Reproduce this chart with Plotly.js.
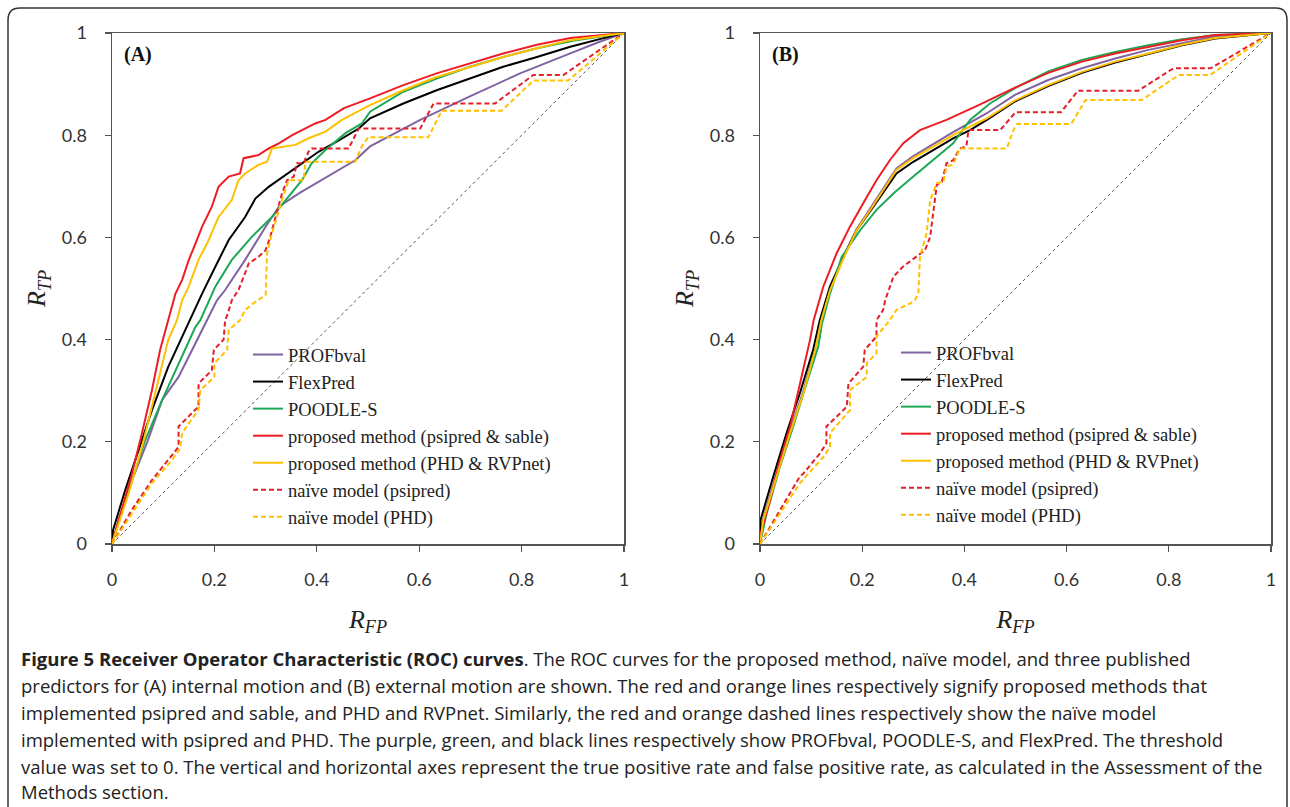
<!DOCTYPE html>
<html>
<head>
<meta charset="utf-8">
<script src="https://cdn.plot.ly/plotly-3.0.1.min.js"></script>
<style>html,body{margin:0;padding:0;background:#fff;}#chart{width:1290px;height:807px;}</style>
</head>
<body>
<div id="chart"></div>
<script>
// ---------- Data ----------
const seriesNames = ["PROFbval", "FlexPred", "POODLE-S",
  "proposed method (psipred & sable)", "proposed method (PHD & RVPnet)",
  "naïve model (psipred)", "naïve model (PHD)"];
const tickVals = [0, 0.2, 0.4, 0.6, 0.8, 1];
const tickLabels = ["0", "0.2", "0.4", "0.6", "0.8", "1"];
const panelLabels = ["(A)", "(B)"];
const diagX = [0, 1];
const diagY = [0, 1];

// Panel A: internal motion
const A_prof_x = [0, 0.013, 0.039, 0.069, 0.098, 0.13, 0.163, 0.186, 0.205, 0.221, 0.26, 0.3, 0.326, 0.365, 0.404, 0.443, 0.475, 0.504, 0.602, 0.699, 0.797, 0.895, 0.95, 1];
const A_prof_y = [0, 0.047, 0.125, 0.2, 0.282, 0.327, 0.393, 0.438, 0.477, 0.497, 0.556, 0.621, 0.66, 0.686, 0.709, 0.732, 0.751, 0.778, 0.83, 0.876, 0.921, 0.96, 0.982, 1];
const A_flex_x = [0, 0.002, 0.026, 0.052, 0.078, 0.11, 0.143, 0.153, 0.176, 0.202, 0.228, 0.26, 0.28, 0.306, 0.339, 0.371, 0.404, 0.443, 0.482, 0.504, 0.569, 0.634, 0.699, 0.764, 0.83, 0.895, 0.96, 1];
const A_flex_y = [0, 0.027, 0.106, 0.184, 0.262, 0.347, 0.419, 0.438, 0.49, 0.543, 0.595, 0.64, 0.676, 0.699, 0.722, 0.745, 0.768, 0.79, 0.813, 0.833, 0.862, 0.888, 0.911, 0.934, 0.953, 0.973, 0.99, 1];
const A_poodle_x = [0, 0.013, 0.039, 0.065, 0.098, 0.13, 0.163, 0.1725, 0.189, 0.202, 0.234, 0.273, 0.3125, 0.345, 0.371, 0.39, 0.417, 0.456, 0.488, 0.504, 0.569, 0.634, 0.699, 0.764, 0.83, 0.9, 1];
const A_poodle_y = [0, 0.047, 0.125, 0.2035, 0.282, 0.354, 0.425, 0.438, 0.477, 0.504, 0.556, 0.601, 0.64, 0.68, 0.712, 0.745, 0.771, 0.804, 0.823, 0.846, 0.885, 0.911, 0.934, 0.953, 0.97, 0.985, 1];
const A_red_x = [0, 0.0195, 0.039, 0.0586, 0.078, 0.094, 0.107, 0.111, 0.12, 0.124, 0.137, 0.15, 0.163, 0.176, 0.195, 0.208, 0.228, 0.25, 0.257, 0.286, 0.306, 0.326, 0.352, 0.378, 0.397, 0.417, 0.453, 0.504, 0.569, 0.634, 0.699, 0.764, 0.83, 0.895, 1];
const A_red_y = [0, 0.067, 0.138, 0.217, 0.301, 0.38, 0.43, 0.44, 0.477, 0.49, 0.517, 0.556, 0.588, 0.621, 0.66, 0.699, 0.719, 0.725, 0.755, 0.761, 0.774, 0.784, 0.8, 0.813, 0.823, 0.83, 0.853, 0.872, 0.898, 0.921, 0.94, 0.96, 0.977, 0.99, 1];
const A_orange_x = [0, 0.0065, 0.0326, 0.0586, 0.085, 0.11, 0.127, 0.137, 0.15, 0.169, 0.189, 0.208, 0.234, 0.247, 0.26, 0.286, 0.303, 0.3125, 0.358, 0.384, 0.417, 0.449, 0.504, 0.569, 0.634, 0.699, 0.764, 0.83, 0.895, 1];
const A_orange_y = [0, 0.02, 0.099, 0.19, 0.295, 0.4, 0.438, 0.477, 0.504, 0.556, 0.595, 0.64, 0.673, 0.712, 0.725, 0.742, 0.748, 0.774, 0.781, 0.794, 0.807, 0.83, 0.859, 0.888, 0.914, 0.934, 0.953, 0.97, 0.986, 1];
const A_naivePsi_x = [0, 0.039, 0.078, 0.12, 0.13, 0.13, 0.15, 0.169, 0.169, 0.195, 0.199, 0.218, 0.221, 0.226, 0.234, 0.247, 0.26, 0.267, 0.286, 0.3, 0.309, 0.319, 0.326, 0.332, 0.342, 0.355, 0.361, 0.374, 0.384, 0.39, 0.462, 0.482, 0.504, 0.602, 0.628, 0.748, 0.823, 0.882, 1];
const A_naivePsi_y = [0, 0.067, 0.125, 0.177, 0.19, 0.23, 0.249, 0.269, 0.314, 0.34, 0.38, 0.4, 0.438, 0.45, 0.477, 0.497, 0.53, 0.549, 0.562, 0.575, 0.601, 0.64, 0.667, 0.686, 0.712, 0.719, 0.745, 0.745, 0.768, 0.774, 0.774, 0.813, 0.813, 0.813, 0.862, 0.862, 0.918, 0.918, 1];
const A_naivePhd_x = [0, 0.039, 0.078, 0.117, 0.133, 0.137, 0.169, 0.1725, 0.2, 0.2, 0.225, 0.228, 0.25, 0.26, 0.28, 0.3, 0.303, 0.3125, 0.322, 0.332, 0.345, 0.374, 0.378, 0.475, 0.488, 0.501, 0.504, 0.618, 0.644, 0.761, 0.823, 0.891, 1];
const A_naivePhd_y = [0, 0.06, 0.119, 0.164, 0.187, 0.217, 0.263, 0.301, 0.327, 0.354, 0.38, 0.419, 0.438, 0.458, 0.474, 0.487, 0.569, 0.608, 0.64, 0.673, 0.712, 0.712, 0.748, 0.748, 0.778, 0.797, 0.796, 0.796, 0.848, 0.848, 0.907, 0.907, 1];

// Panel B: external motion
const B_prof_x = [0, 0.005, 0.03, 0.056, 0.083, 0.107, 0.12, 0.137, 0.163, 0.189, 0.222, 0.248, 0.267, 0.3, 0.339, 0.378, 0.417, 0.444, 0.499, 0.564, 0.63, 0.695, 0.76, 0.826, 0.891, 1];
const B_prof_y = [0, 0.045, 0.13, 0.215, 0.293, 0.378, 0.438, 0.498, 0.56, 0.616, 0.666, 0.707, 0.735, 0.759, 0.783, 0.806, 0.828, 0.843, 0.879, 0.908, 0.931, 0.95, 0.967, 0.98, 0.993, 1];
const B_flex_x = [0, 0.001, 0.026, 0.052, 0.078, 0.104, 0.117, 0.137, 0.163, 0.189, 0.222, 0.248, 0.267, 0.3, 0.339, 0.378, 0.411, 0.444, 0.499, 0.564, 0.63, 0.695, 0.76, 0.826, 0.891, 1];
const B_flex_y = [0, 0.047, 0.132, 0.217, 0.295, 0.38, 0.438, 0.504, 0.562, 0.614, 0.66, 0.699, 0.725, 0.748, 0.771, 0.794, 0.81, 0.83, 0.866, 0.896, 0.922, 0.942, 0.959, 0.976, 0.989, 1];
const B_poodle_x = [0, 0.013, 0.039, 0.065, 0.091, 0.114, 0.121, 0.137, 0.16, 0.196, 0.228, 0.261, 0.3, 0.339, 0.378, 0.411, 0.45, 0.499, 0.564, 0.63, 0.695, 0.76, 0.826, 0.891, 1];
const B_poodle_y = [0, 0.06, 0.151, 0.23, 0.314, 0.386, 0.43, 0.49, 0.562, 0.614, 0.654, 0.686, 0.719, 0.751, 0.784, 0.83, 0.862, 0.892, 0.925, 0.947, 0.963, 0.976, 0.988, 0.996, 1];
const B_red_x = [0, 0.001, 0.02, 0.039, 0.059, 0.078, 0.098, 0.105, 0.114, 0.124, 0.15, 0.176, 0.202, 0.228, 0.254, 0.28, 0.313, 0.346, 0.365, 0.43, 0.499, 0.564, 0.63, 0.695, 0.76, 0.826, 0.891, 1];
const B_red_y = [0, 0.02, 0.086, 0.164, 0.23, 0.314, 0.4, 0.438, 0.47, 0.504, 0.569, 0.621, 0.667, 0.712, 0.751, 0.784, 0.81, 0.823, 0.83, 0.86, 0.893, 0.922, 0.944, 0.96, 0.973, 0.986, 0.996, 1];
const B_orange_x = [0, 0.0065, 0.0326, 0.0587, 0.085, 0.108, 0.12, 0.137, 0.163, 0.189, 0.222, 0.248, 0.267, 0.3, 0.339, 0.378, 0.417, 0.444, 0.499, 0.564, 0.63, 0.695, 0.76, 0.826, 0.891, 1];
const B_orange_y = [0, 0.047, 0.132, 0.217, 0.295, 0.38, 0.438, 0.497, 0.558, 0.614, 0.663, 0.704, 0.732, 0.755, 0.778, 0.8, 0.82, 0.833, 0.868, 0.898, 0.924, 0.944, 0.96, 0.977, 0.99, 1];
const B_naivePsi_x = [0, 0.039, 0.078, 0.085, 0.117, 0.13, 0.13, 0.157, 0.17, 0.173, 0.202, 0.205, 0.228, 0.228, 0.241, 0.245, 0.261, 0.28, 0.307, 0.323, 0.333, 0.339, 0.346, 0.356, 0.365, 0.378, 0.391, 0.404, 0.408, 0.47, 0.5, 0.589, 0.622, 0.74, 0.809, 0.882, 1];
const B_naivePsi_y = [0, 0.067, 0.132, 0.138, 0.177, 0.197, 0.23, 0.256, 0.269, 0.314, 0.347, 0.38, 0.406, 0.438, 0.458, 0.477, 0.523, 0.543, 0.562, 0.575, 0.601, 0.654, 0.703, 0.709, 0.745, 0.751, 0.774, 0.778, 0.81, 0.81, 0.845, 0.845, 0.887, 0.887, 0.931, 0.931, 1];
const B_naivePhd_x = [0, 0.039, 0.078, 0.124, 0.137, 0.137, 0.176, 0.176, 0.209, 0.209, 0.228, 0.228, 0.254, 0.267, 0.294, 0.303, 0.31, 0.313, 0.326, 0.333, 0.346, 0.359, 0.365, 0.378, 0.391, 0.483, 0.496, 0.503, 0.609, 0.637, 0.747, 0.82, 0.881, 1];
const B_naivePhd_y = [0, 0.06, 0.119, 0.17, 0.19, 0.217, 0.262, 0.301, 0.327, 0.354, 0.373, 0.406, 0.438, 0.458, 0.471, 0.477, 0.49, 0.562, 0.608, 0.673, 0.706, 0.709, 0.739, 0.742, 0.774, 0.774, 0.81, 0.822, 0.822, 0.869, 0.869, 0.918, 0.918, 1];

const captionLines = [
  "<b>Figure 5 Receiver Operator Characteristic (ROC) curves</b>. The ROC curves for the proposed method, naïve model, and three published",
  "predictors for (A) internal motion and (B) external motion are shown. The red and orange lines respectively signify proposed methods that",
  "implemented psipred and sable, and PHD and RVPnet. Similarly, the red and orange dashed lines respectively show the naïve model",
  "implemented with psipred and PHD. The purple, green, and black lines respectively show PROFbval, POODLE-S, and FlexPred. The threshold",
  "value was set to 0. The vertical and horizontal axes represent the true positive rate and false positive rate, as calculated in the Assessment of the",
  "Methods section."
];

// ---------- Styles ----------
const styles = [
  {color: "#8064A2", dash: "solid"},
  {color: "#000000", dash: "solid"},
  {color: "#1DA855", dash: "solid"},
  {color: "#EE1C24", dash: "solid"},
  {color: "#FFC000", dash: "solid"},
  {color: "#E3202A", dash: "5px,3px"},
  {color: "#FFC000", dash: "5px,3px"}
];

const panelA = [[A_prof_x, A_prof_y], [A_flex_x, A_flex_y], [A_poodle_x, A_poodle_y], [A_red_x, A_red_y], [A_orange_x, A_orange_y], [A_naivePsi_x, A_naivePsi_y], [A_naivePhd_x, A_naivePhd_y]];
const panelB = [[B_prof_x, B_prof_y], [B_flex_x, B_flex_y], [B_poodle_x, B_poodle_y], [B_red_x, B_red_y], [B_orange_x, B_orange_y], [B_naivePsi_x, B_naivePsi_y], [B_naivePhd_x, B_naivePhd_y]];

const traces = [];
function addPanel(data, xa, ya, legendId) {
  traces.push({x: diagX, y: diagY, xaxis: xa, yaxis: ya, mode: "lines", showlegend: false, hoverinfo: "skip",
    line: {color: "#555", width: 1, dash: "dot"}});
  data.forEach((d, i) => {
    traces.push({x: d[0], y: d[1], xaxis: xa, yaxis: ya, mode: "lines", name: seriesNames[i], legend: legendId,
      line: {color: styles[i].color, width: 2, dash: styles[i].dash, shape: "linear"}});
  });
}
addPanel(panelA, "x", "y", "legend");
addPanel(panelB, "x2", "y2", "legend2");

const W = 1290, H = 807;
const px = v => v / W;
const py = v => 1 - v / H;

function axis(domain, isX, anchor) {
  return {
    domain: domain, range: [0, 1], anchor: anchor, fixedrange: true, automargin: false,
    tickmode: "array", tickvals: tickVals, ticktext: tickLabels,
    ticks: "outside", ticklen: 6, tickwidth: 1.3, tickcolor: "#555",
    ticklabelstandoff: isX ? 13 : 14,
    tickfont: {family: "Lato, 'Liberation Sans', sans-serif", size: 18, color: "#333"},
    showline: true, linecolor: "#555", linewidth: 1.5, mirror: true,
    showgrid: false, zeroline: false,
    title: {
      text: isX ? "<i>R<sub>FP</sub></i>" : "<i>R<sub>TP</sub></i>",
      font: {family: "'Liberation Serif', 'Times New Roman', serif", size: 26, color: "#222"},
      standoff: isX ? 20 : 8
    }
  };
}

const yDom = [1 - 544 / H, 1 - 33 / H];
const legendFont = {family: "'Liberation Serif', 'Times New Roman', serif", size: 18.5, color: "#222"};

const annotations = [
  {text: "<b>" + panelLabels[0] + "</b>", xref: "x domain", yref: "y domain", x: 0.02, y: 0.957, xanchor: "left", yanchor: "middle", showarrow: false,
   font: {family: "'Liberation Serif', serif", size: 20, color: "#111"}},
  {text: "<b>" + panelLabels[1] + "</b>", xref: "x2 domain", yref: "y2 domain", x: 0.02, y: 0.957, xanchor: "left", yanchor: "middle", showarrow: false,
   font: {family: "'Liberation Serif', serif", size: 20, color: "#111"}}
];
const captionY = [658, 685, 712, 739, 766, 791];
captionLines.forEach((t, i) => {
  annotations.push({text: t, xref: "paper", yref: "paper", x: px(19), y: py(captionY[i]), xanchor: "left", yanchor: "middle",
    showarrow: false, align: "left", font: {family: "'Open Sans', 'Noto Sans', sans-serif", size: 18.5, color: "#222"}});
});

const layout = {
  width: W, height: H, margin: {l: 0, r: 0, t: 0, b: 0},
  paper_bgcolor: "#fff", plot_bgcolor: "#fff",
  xaxis: axis([112 / W, 624 / W], true, "y"),
  yaxis: axis(yDom, false, "x"),
  xaxis2: axis([760 / W, 1271 / W], true, "y2"),
  yaxis2: axis(yDom, false, "x2"),
  legend: {x: px(248), y: py(336), xanchor: "left", yanchor: "top", bgcolor: "rgba(0,0,0,0)", borderwidth: 0,
    font: legendFont, tracegroupgap: 0, itemclick: false, itemdoubleclick: false},
  legend2: {x: px(896), y: py(334), xanchor: "left", yanchor: "top", bgcolor: "rgba(0,0,0,0)", borderwidth: 0,
    font: legendFont, tracegroupgap: 0, itemclick: false, itemdoubleclick: false},
  annotations: annotations,
  shapes: [{
    type: "path", xref: "paper", yref: "paper", layer: "below",
    path: `M ${px(8)} 0 L ${px(8)} ${py(20)} Q ${px(8)} ${py(8)} ${px(20)} ${py(8)} L ${px(1276)} ${py(8)} Q ${px(1287)} ${py(8)} ${px(1287)} ${py(20)} L ${px(1287)} 0`,
    line: {color: "#333", width: 1.5}
  }],
  showlegend: true
};

Plotly.newPlot("chart", traces, layout, {staticPlot: true, displayModeBar: false});
</script>
</body>
</html>
